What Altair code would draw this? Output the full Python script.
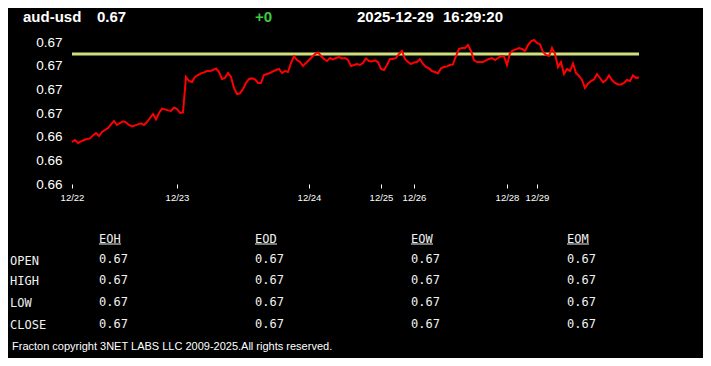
import altair as alt
import pandas as pd

# ---------------- data ----------------
prices = [
    0.6641, 0.6642, 0.66405, 0.66413, 0.6642, 0.66425, 0.66428, 0.66443, 0.66455, 0.6644,
    0.6646, 0.6647, 0.6648, 0.66498, 0.66515, 0.66495, 0.66505, 0.66513, 0.66508, 0.66495,
    0.66488, 0.66493, 0.66498, 0.66503, 0.66495, 0.6651, 0.6653, 0.6655, 0.66523, 0.66555,
    0.66577, 0.66573, 0.66568, 0.66565, 0.66583, 0.66575, 0.66555, 0.66558, 0.66735, 0.66715,
    0.6671, 0.66735, 0.66745, 0.66753, 0.66758, 0.66765, 0.66765, 0.6677, 0.66778, 0.6676,
    0.66725, 0.6673, 0.66755, 0.66735, 0.6668, 0.6665, 0.66653, 0.66675, 0.66705, 0.66725,
    0.66728, 0.66723, 0.66705, 0.66705, 0.66745, 0.6675, 0.66755, 0.66763, 0.6677, 0.66775,
    0.66755, 0.66765, 0.6676, 0.66805, 0.66838, 0.6682, 0.6681, 0.6679, 0.66805, 0.6682,
    0.66835, 0.6685, 0.66858, 0.6684, 0.66825, 0.66815, 0.6683, 0.66823, 0.6683, 0.66835,
    0.66828, 0.6683, 0.6682, 0.6679, 0.66795, 0.668, 0.66795, 0.66805, 0.66828, 0.66815,
    0.66813, 0.66818, 0.6681, 0.66775, 0.6677, 0.66795, 0.66825, 0.66825, 0.6683, 0.6685,
    0.66865, 0.66825, 0.6681, 0.668, 0.66808, 0.6681, 0.66825, 0.668, 0.66785, 0.66778,
    0.66765, 0.6676, 0.66753, 0.66778, 0.66785, 0.66788, 0.66795, 0.66798, 0.6684, 0.66875,
    0.6688, 0.6688, 0.66895, 0.66865, 0.6682, 0.6681, 0.6681, 0.6681, 0.66818, 0.66825,
    0.6683, 0.6682, 0.6683, 0.6684, 0.66838, 0.66795, 0.66855, 0.66868, 0.66873, 0.6688,
    0.66875, 0.66865, 0.66895, 0.66913, 0.6692, 0.66905, 0.66898, 0.6686, 0.66845, 0.6684,
    0.6688, 0.6685, 0.66785, 0.6681, 0.6675, 0.66775, 0.66765, 0.66803, 0.66755, 0.6674,
    0.6672, 0.6668, 0.66703, 0.66715, 0.66723, 0.6675, 0.6673, 0.66708, 0.6672, 0.66743,
    0.6672, 0.66705, 0.66698, 0.66698, 0.66705, 0.6672, 0.66715, 0.66743, 0.6673, 0.66733,
]
ref_level = 0.6685

date_tick_idx = [0, 35, 79, 103, 114, 145, 155]
date_tick_labels = ["12/22", "12/23", "12/24", "12/25", "12/26", "12/28", "12/29"]

y_domain = [0.662, 0.6691]
y_ticks = [0.662, 0.66318, 0.66437, 0.66555, 0.66673, 0.66792, 0.6691]

symbol = "aud-usd"
last_price = "0.67"
change = "+0"
date_str = "2025-12-29"
time_str = "16:29:20"

col_headers = ["EOH", "EOD", "EOW", "EOM"]
row_labels = ["OPEN", "HIGH", "LOW", "CLOSE"]
table_values = [
    ["0.67", "0.67", "0.67", "0.67"],
    ["0.67", "0.67", "0.67", "0.67"],
    ["0.67", "0.67", "0.67", "0.67"],
    ["0.67", "0.67", "0.67", "0.67"],
]
footer = "Fracton copyright 3NET LABS LLC 2009-2025.All rights reserved."

# ---------------- layout ----------------
# page has an 8px margin; the chart itself is 695 x 350
MARGIN = 8
TOTAL_W, TOTAL_H = 711 - 2 * MARGIN, 366 - 2 * MARGIN
PLOT_X0, PLOT_Y0 = 72, 42          # plot origin on the page
W, H = 567, 142
PAD_L, PAD_T = PLOT_X0 - MARGIN, PLOT_Y0 - MARGIN
PAD_R, PAD_B = TOTAL_W - PAD_L - W, TOTAL_H - PAD_T - H
SANS = "Liberation Sans"
MONO = "DejaVu Sans Mono"

col_x = [99, 255, 411, 567]
label_x = 10
header_y = 238.5
row_label_y = [260.5, 280.5, 302.5, 324.5]
row_value_y = [258.5, 280, 301.5, 323.5]

def rel(xa, ya):
    return xa - PLOT_X0, ya - PLOT_Y0

# ---------------- chart ----------------
series = pd.DataFrame({"idx": list(range(len(prices))), "price": prices})

label_expr = (
    "[" + ",".join(f"'{l}'" for l in date_tick_labels) + "]"
    "[indexof([" + ",".join(str(i) for i in date_tick_idx) + "], datum.value)]"
)

x_enc = alt.X(
    "idx:Q",
    scale=alt.Scale(domain=[0, len(prices) - 1], nice=False, zero=False),
    axis=alt.Axis(
        values=date_tick_idx, labelExpr=label_expr, grid=False, domain=False,
        tickColor="#ffffff", tickSize=4, tickWidth=1, labelColor="#ffffff",
        labelFontSize=9.5, labelFont=SANS, labelPadding=4, labelFlush=False,
        labelOverlap=False, title=None,
    ),
)
y_scale = alt.Scale(domain=y_domain, nice=False, zero=False)
y_axis = alt.Axis(
    values=y_ticks, format=".2f", grid=False, domain=False, ticks=False,
    labelPadding=10, labelColor="#ffffff", labelFontSize=13.5, labelFont=SANS,
    labelFlush=False, labelOverlap=False, labelBound=False, title=None,
)

ref_df = pd.DataFrame({"price": [ref_level]})
ref_rule = alt.Chart(ref_df).mark_rule(color="#cfdf7c", strokeWidth=3).encode(
    y=alt.Y("price:Q", scale=y_scale, axis=y_axis)
)
price_line = alt.Chart(series).mark_line(color="#ff0000", strokeWidth=2).encode(
    x=x_enc, y=alt.Y("price:Q", scale=y_scale, axis=y_axis)
)

def text_layer(rows, font, size, weight="normal", color="#ffffff"):
    df = pd.DataFrame(rows, columns=["px", "py", "t"])
    return alt.Chart(df).mark_text(
        align="left", baseline="middle", font=font, fontSize=size,
        fontWeight=weight, color=color,
    ).encode(
        x=alt.X("px:Q", scale=None, axis=None),
        y=alt.Y("py:Q", scale=None, axis=None),
        text="t:N",
    )

hy = 17
header_rows = [
    (*rel(23, hy), symbol),
    (*rel(97, hy), last_price),
    (*rel(357, hy), date_str),
    (*rel(443, hy), time_str),
]
header = text_layer(header_rows, SANS, 15, "bold")
change_txt = text_layer([(*rel(255, hy), change)], SANS, 15, "bold", "#3ccc3c")

table_rows = []
for cx, h in zip(col_x, col_headers):
    table_rows.append((*rel(cx, header_y), h))
for ly, lab in zip(row_label_y, row_labels):
    table_rows.append((*rel(label_x, ly), lab))
for r, vy in enumerate(row_value_y):
    for c, cx in enumerate(col_x):
        table_rows.append((*rel(cx, vy), table_values[r][c]))
table = text_layer(table_rows, MONO, 12, "normal", "#f0f0f0")

ul = pd.DataFrame({
    "x1": [rel(cx, 0)[0] for cx in col_x],
    "x2": [rel(cx + 22, 0)[0] for cx in col_x],
    "y": [rel(0, 244)[1]] * len(col_x),
})
underline = alt.Chart(ul).mark_rule(color="#f0f0f0", strokeWidth=1).encode(
    x=alt.X("x1:Q", scale=None, axis=None),
    x2="x2:Q",
    y=alt.Y("y:Q", scale=None, axis=None),
)

foot = text_layer([(*rel(12, 347), footer)], SANS, 11, "normal", "#ffffff")

chart = alt.layer(
    ref_rule, price_line, header, change_txt, table, underline, foot
).properties(
    width=W, height=H,
    autosize=alt.AutoSizeParams(type="none"),
    padding={"left": PAD_L, "top": PAD_T, "right": PAD_R, "bottom": PAD_B},
    background="#000000",
).configure_view(strokeWidth=0)

chart.save("out.html", embed_options={"renderer": "svg", "actions": False})
